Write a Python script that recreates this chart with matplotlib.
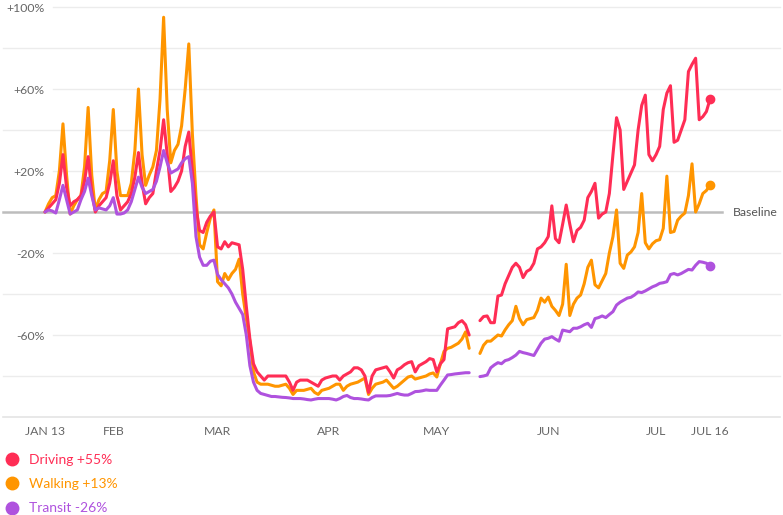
import numpy as np
import pandas as pd
import matplotlib
matplotlib.use('Agg')
import matplotlib.pyplot as plt
from matplotlib.lines import Line2D

plt.rcParams['font.family'] = ['Lato', 'DejaVu Sans']

# daily values, Jan 13 - Jul 16 2020 (% change vs baseline); May 11-12 missing
dates = pd.date_range('2020-01-13', '2020-07-16', freq='D')
nan = np.nan

driving = [
    0, 2, 4, 6, 14, 28, 12,
    3, 5, 6, 8, 15, 27, 10,
    0, 3, 5, 7, 14, 25, 8,
    1, 3, 5, 9, 17, 29, 14,
    4, 7, 9, 20, 30, 45, 28,
    10, 12, 15, 20, 32, 39, 20,
    2, -9, -10, -5, -2, 0, -17,
    -18, -14.5, -17, -15, -15.5, -16, -28,
    -46, -62, -74, -78, -80, -82, -80,
    -80, -80, -80, -80, -80, -83, -87,
    -83, -82, -82, -82, -83, -84, -85,
    -82, -81, -80.5, -80, -80, -82, -80,
    -79, -78, -76, -76, -77, -80, -88,
    -80, -77, -76.5, -76, -75.5, -78, -81,
    -77, -76, -74.5, -73.5, -73, -78, -75,
    -74, -73, -71.5, -72, -78, -74, -72,
    -57, -56.5, -56, -54, -53, -55, -60,
    nan, nan, -53, -51, -50.7, -54, -54,
    -41, -40.5, -35, -31, -27, -25, -27,
    -32, -29, -28, -25, -18, -17, -15,
    -12, 3, -13, -15, -6, 3.4, -6,
    -14.5, -9, -7.5, -4, 7, 10, 14,
    -3, -1, 0, 9, 28, 46, 40,
    11, 15, 19, 23, 40, 52, 57,
    28, 25, 28, 32, 50, 58, 61.6,
    34, 35, 40, 45, 68.5, 72, 75,
    45, 46.5, 49, 55,
]

walking = [
    0, 4, 7, 8, 20, 43, 18,
    -1, 3, 6, 8, 22, 51, 18,
    1, 6, 9, 10, 25, 50, 20,
    8, 8, 8, 14, 30, 60, 28,
    13, 18, 22, 30, 55, 95, 50,
    24, 30, 33, 42, 60, 82, 38,
    8, -16, -18, -10, -3, 1, -34,
    -36, -30, -33, -30, -28, -23, -40,
    -52, -63, -78, -83, -84, -84, -84,
    -84.5, -85, -85, -84.5, -84, -86, -89,
    -87, -87, -87, -86.5, -86, -88, -89,
    -87, -86.5, -86, -85, -84, -84, -87,
    -85, -84, -83.5, -83, -82, -81, -89,
    -86, -84, -83.5, -83, -82, -84, -86,
    -85, -83.5, -82, -80.5, -80, -81.5, -81,
    -80.5, -80, -79, -78.5, -80.5, -74, -68,
    -66.5, -66, -65, -64, -62, -58.5, -66.5,
    nan, nan, -69, -65, -63, -63, -61.5,
    -60, -60.5, -57.5, -55, -53, -46, -52,
    -55, -52.5, -52, -51.5, -48, -42, -44,
    -41.5, -46, -48, -50.5, -45, -25.5, -50.5,
    -45, -42, -40.5, -35, -27, -23.5, -35.5,
    -37, -33.5, -30, -20, -12, 1, -25,
    -27.5, -21, -19.5, -17, -10, 9, -15,
    -18, -15.5, -14, -13.5, -8, 17.5, -10,
    -9.5, -4, -2, -0.5, 8, 23.5, 0,
    4, 9, 10.5, 13,
]

transit = [
    0, 1, 0.5, -0.5, 6, 13, 6,
    -1, 0, 1, 6, 10, 16.5, 8,
    1, 2, 1.5, 1, 3, 7, -1,
    -1, -0.5, 1, 5, 11, 17, 12,
    9, 10, 11, 15, 22, 30, 24,
    19, 20, 21, 24, 26, 27, 14,
    -12, -22, -26, -26, -24, -23.5, -30.5,
    -33, -35, -37, -40, -44, -47, -50,
    -60, -75, -83, -87, -88.5, -89, -89.5,
    -90, -90, -90.2, -90.4, -90.5, -90.7, -91,
    -91, -91, -91.2, -91.5, -91.7, -91.3, -91,
    -91, -91, -91, -91.3, -91.7, -91, -90,
    -89.5, -90.5, -91, -91, -91.2, -91.5, -91.7,
    -90.5, -89.7, -89.7, -89.7, -89.7, -89.5, -89,
    -88.5, -89, -89.3, -89.3, -88.5, -87.6, -87.5,
    -87.2, -86.8, -87, -87, -87, -84.4, -82,
    -79.5, -79.3, -79, -78.8, -78.6, -78.4, -78.4,
    nan, nan, -80.3, -80, -79.5, -76, -74.6,
    -73.5, -74, -72.5, -72, -71, -69.8, -68,
    -68.6, -69, -69.5, -70, -67, -64, -62,
    -61.6, -60.8, -62, -63, -57.6, -58, -58.4,
    -56.7, -56.7, -56, -55, -54.3, -56.3, -52,
    -51.5, -50.7, -51.5, -50, -48.6, -45.4, -44,
    -43, -42, -41.6, -40.5, -39, -39.3, -38.5,
    -37.5, -36.5, -35.8, -34.8, -34.5, -34, -30.5,
    -30, -30.7, -30, -29, -28, -28.3, -26,
    -24.2, -24.5, -25, -26.3,
]

series_values = [walking, driving, transit]
series_colors = ['#ff9500', '#ff2d55', '#af52de']
legend_labels = ['Driving +55%', 'Walking +13%', 'Transit -26%']
legend_colors = ['#ff2d55', '#ff9500', '#af52de']

tick_dates = ['2020-01-13', '2020-02-01', '2020-03-01', '2020-04-01',
              '2020-05-01', '2020-06-01', '2020-07-01', '2020-07-16']
tick_labels = ['JAN 13', 'FEB', 'MAR', 'APR', 'MAY', 'JUN', 'JUL', 'JUL 16']
ytick_vals = [100, 60, 20, -20, -60]
ytick_labels = ['+100%', '+60%', '+20%', '-20%', '-60%']
grid_vals = [80, 40, -40, -80]

W, H = 783, 515
px_day = 3.5946   # pixels per day
px_pct = 2.05     # pixels per percent

fig = plt.figure(figsize=(W / 100, H / 100), dpi=100)
ax = fig.add_axes([0, (H - 417) / H, 1, 417 / H])
ax.set_xlim(dates[0] - pd.Timedelta(days=45 / px_day),
            dates[0] + pd.Timedelta(days=(W - 45) / px_day))
ax.set_ylim(-100, 212 / px_pct)
for s in ax.spines.values():
    s.set_visible(False)

# grid
for v in ytick_vals:
    ax.axhline(v, xmin=53 / W, xmax=780 / W, color='#ececec', lw=1, zorder=0)
for v in grid_vals:
    ax.axhline(v, xmin=3 / W, xmax=780 / W, color='#ececec', lw=1, zorder=0)
ax.axhline(-100, xmin=3 / W, xmax=780 / W, color='#e4e4e4', lw=1.2, zorder=0, clip_on=False)
ax.axhline(0, xmin=3 / W, xmax=722 / W, color='#bdbdbd', lw=1.8, zorder=1)
ax.text(dates[0] + pd.Timedelta(days=(733 - 45) / px_day), 0, 'Baseline',
        ha='left', va='center', fontsize=8.8, color='#555555')

for vals, c in zip(series_values, series_colors):
    ax.plot(dates, vals, color=c, lw=2.2, solid_joinstyle='round',
            solid_capstyle='round', zorder=3)
    ax.plot(dates[-1], vals[-1], 'o', ms=6, color=c, zorder=4)

ax.set_xticks(pd.to_datetime(tick_dates))
ax.set_xticklabels(tick_labels)
ax.set_yticks(ytick_vals)
ax.set_yticklabels(ytick_labels)
ax.tick_params(axis='x', length=0, pad=6.5, labelsize=8.8, labelcolor='#666666')
ax.tick_params(axis='y', length=0, pad=-32, labelsize=8.8, labelcolor='#666666')

handles = [Line2D([], [], marker='o', ls='', color=c, ms=9) for c in legend_colors]
fig.legend(handles, legend_labels, loc='upper left',
           bbox_to_anchor=(6 / W, 1 - 454 / H), frameon=False,
           labelcolor=legend_colors, fontsize=10, handlelength=0.9,
           handletextpad=0.75, labelspacing=0.88, borderpad=0, borderaxespad=0)

fig.savefig('out.png', dpi=100)
